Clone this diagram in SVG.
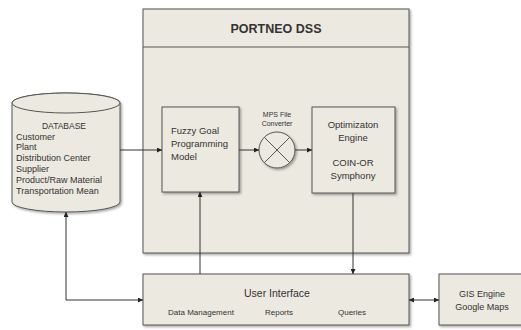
<svg xmlns="http://www.w3.org/2000/svg" width="521" height="330" viewBox="0 0 521 330">
<defs>
<marker id="arr" viewBox="0 0 6 6" refX="6" refY="3" markerWidth="5" markerHeight="5" orient="auto-start-reverse" markerUnits="userSpaceOnUse">
<path d="M0,0 L6,3 L0,6 z" fill="#222"/>
</marker>
<filter id="sh" x="-10%" y="-10%" width="130%" height="130%">
<feDropShadow dx="1.5" dy="1.5" stdDeviation="1" flood-color="#000" flood-opacity="0.35"/>
</filter>
</defs>
<style>
.box{fill:#ECE9E0;stroke:#555;stroke-width:1;filter:url(#sh)}
.t{font-family:"Liberation Sans",Arial,sans-serif;fill:#333}
.c{text-anchor:middle}
.ln{stroke:#333;stroke-width:1;fill:none}
</style>
<rect width="521" height="330" fill="#fff"/>
<g id="dss">
<rect class="box" x="143" y="9" width="266" height="244"/>
<line x1="143" y1="47" x2="409" y2="47" stroke="#555"/>
<text class="t c" x="276" y="33" font-size="12.5" font-weight="bold" fill="#111">PORTNEO DSS</text>
</g>
<g id="database">
<path class="box" d="M12,103 L12,202 A54,10 0 0 0 120,202 L120,103 A54,10 0 0 0 12,103 Z"/>
<ellipse cx="66" cy="103" rx="54" ry="10" fill="#ECE9E0" stroke="#555"/>
<text class="t c" x="64" y="129" font-size="8.5">DATABASE</text>
<text class="t" x="16" y="139.5" font-size="9">Customer</text>
<text class="t" x="16" y="150.3" font-size="9">Plant</text>
<text class="t" x="16" y="161.1" font-size="9">Distribution Center</text>
<text class="t" x="16" y="171.9" font-size="9">Supplier</text>
<text class="t" x="16" y="182.7" font-size="9">Product/Raw Material</text>
<text class="t" x="16" y="193.5" font-size="9">Transportation Mean</text>
</g>
<g id="fuzzy">
<rect class="box" x="162" y="107" width="77" height="85"/>
<text class="t" x="171" y="134" font-size="9.5">Fuzzy Goal</text>
<text class="t" x="171" y="147" font-size="9.5">Programming</text>
<text class="t" x="171" y="160" font-size="9.5">Model</text>
</g>
<g id="mps">
<text class="t c" x="277" y="117" font-size="7">MPS File</text>
<text class="t c" x="277" y="126" font-size="7">Converter</text>
<circle class="box" cx="277" cy="150" r="18"/>
<line x1="264.3" y1="137.3" x2="289.7" y2="162.7" stroke="#555"/>
<line x1="289.7" y1="137.3" x2="264.3" y2="162.7" stroke="#555"/>
</g>
<g id="optimization">
<rect class="box" x="312" y="107" width="83" height="86"/>
<text class="t c" x="353" y="128" font-size="9.5">Optimizaton</text>
<text class="t c" x="353" y="141" font-size="9.5">Engine</text>
<text class="t c" x="353" y="166" font-size="9.5">COIN-OR</text>
<text class="t c" x="353" y="179" font-size="9.5">Symphony</text>
</g>
<g id="ui">
<rect class="box" x="143" y="274" width="266" height="51"/>
<text class="t c" x="277" y="297" font-size="10.5">User  Interface</text>
<text class="t c" x="201" y="315" font-size="8">Data Management</text>
<text class="t c" x="279" y="315" font-size="8">Reports</text>
<text class="t c" x="352" y="315" font-size="8">Queries</text>
</g>
<g id="gis">
<rect class="box" x="439" y="274" width="90" height="51"/>
<text class="t c" x="482" y="297" font-size="9">GIS Engine</text>
<text class="t c" x="482" y="310" font-size="9">Google Maps</text>
</g>
<g id="connectors">
<line class="ln" x1="120" y1="150" x2="162" y2="150" marker-end="url(#arr)"/>
<line class="ln" x1="239" y1="150" x2="259" y2="150" marker-end="url(#arr)"/>
<line class="ln" x1="295" y1="150" x2="312" y2="150" marker-end="url(#arr)"/>
<line class="ln" x1="200" y1="274" x2="200" y2="192" marker-end="url(#arr)"/>
<line class="ln" x1="353" y1="193" x2="353" y2="274" marker-end="url(#arr)"/>
<polyline class="ln" points="66,212 66,300 143,300" marker-start="url(#arr)" marker-end="url(#arr)"/>
<line class="ln" x1="409" y1="300" x2="439" y2="300" marker-start="url(#arr)" marker-end="url(#arr)"/>
</g>
</svg>
